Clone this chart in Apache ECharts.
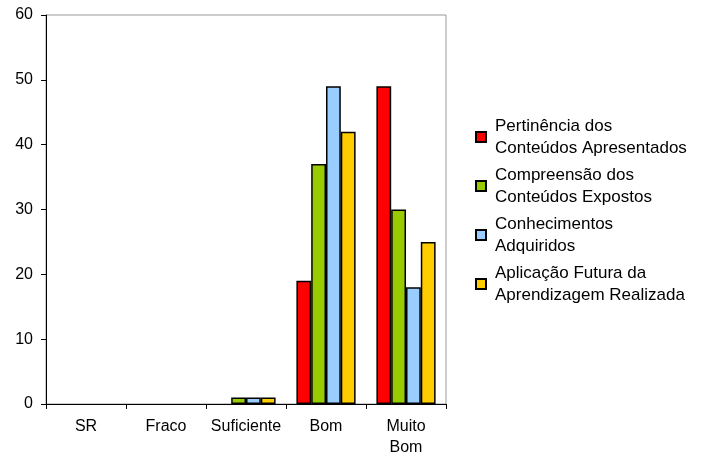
<!DOCTYPE html>
<html>
<head>
<meta charset="utf-8">
<script src="https://cdn.jsdelivr.net/npm/echarts@6/dist/echarts.min.js"></script>
<style>html,body{margin:0;padding:0;background:#fff}#c{width:709px;height:455px}</style>
</head>
<body>
<div id="c"></div>
<script>
var categories = ['SR', 'Fraco', 'Suficiente', 'Bom', 'Muito\nBom'];
var seriesNames = ['Pertinência dos\nConteúdos Apresentados', 'Compreensão dos\nConteúdos Expostos', 'Conhecimentos\nAdquiridos', 'Aplicação Futura da\nAprendizagem Realizada'];
var pertinencia = [0, 0, 0, 19, 49];
var compreensao = [0, 0, 1, 37, 30];
var conhecimentos = [0, 0, 1, 49, 18];
var aplicacao = [0, 0, 1, 42, 25];
var colors = ['#FF0000', '#99CC00', '#99CCFF', '#FFCC00'];
var yTicks = [0, 10, 20, 30, 40, 50, 60];

var values = [pertinencia, compreensao, conhecimentos, aplicacao];
var chart = echarts.init(document.getElementById('c'), null, {renderer: 'canvas'});
var font = 'Liberation Sans, Arial, sans-serif';
chart.setOption({
  animation: false,
  textStyle: {fontFamily: font},
  grid: {left: 46, right: 263, top: 15, bottom: 51, show: true, borderColor: '#999', borderWidth: 1, backgroundColor: 'transparent', containLabel: false, outerBoundsMode: 'none'},
  legend: {
    orient: 'vertical', left: 475, top: 104, padding: 0,
    itemWidth: 10, itemHeight: 10, itemGap: -17,
    icon: 'rect',
    data: seriesNames,
    textStyle: {fontFamily: font, fontSize: 17, color: '#000', lineHeight: 22, padding: [22, 0, 0, 4]}
  },
  xAxis: {
    type: 'category', data: categories,
    axisLine: {lineStyle: {color: '#000', width: 1}},
    axisTick: {show: true, inside: false, length: 5, lineStyle: {color: '#000'}},
    axisLabel: {color: '#000', fontSize: 16, fontFamily: font, margin: 12, lineHeight: 21, interval: 0},
    splitLine: {show: false}
  },
  yAxis: {
    type: 'value', min: yTicks[0], max: yTicks[yTicks.length - 1], interval: 10,
    axisLine: {show: true, lineStyle: {color: '#000', width: 1}},
    axisTick: {show: true, inside: false, length: 5, lineStyle: {color: '#000'}},
    axisLabel: {color: '#000', fontSize: 16, fontFamily: font, margin: 13},
    splitLine: {show: false}
  },
  series: seriesNames.map(function (n, i) {
    return {
      name: n, type: 'bar',
      data: values[i].map(function (v) { return v === 0 ? null : v; }),
      barGap: '0%', barCategoryGap: '26%',
      itemStyle: {color: colors[i], borderColor: '#000', borderWidth: 1.5}
    };
  })
});
</script>
</body>
</html>
